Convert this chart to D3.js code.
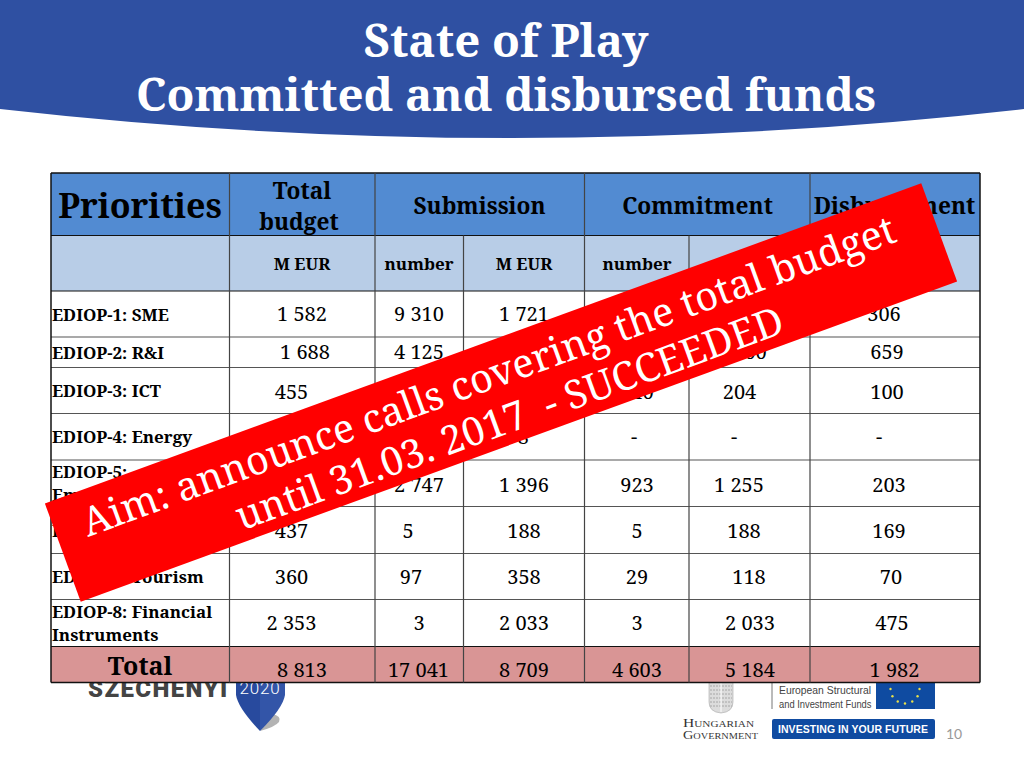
<!DOCTYPE html>
<html><head><meta charset="utf-8">
<script src="https://cdnjs.cloudflare.com/ajax/libs/d3/7.8.5/d3.min.js"></script>
<style>html,body{margin:0;padding:0;background:#fff}svg{display:block}</style>
</head><body><svg id="c" width="1024" height="768"></svg>
<script>
const titleLines = ["State of Play", "Committed and disbursed funds"];
const groupHeaders = ["Priorities", "Total budget", "Submission", "Commitment", "Disbursement"];
const unitHeaders = ["M EUR", "number", "M EUR", "number", "M EUR", "M EUR"];
const priorities = [["EDIOP-1: SME"],["EDIOP-2: R&I"],["EDIOP-3: ICT"],["EDIOP-4: Energy"],["EDIOP-5:","Employment"],["EDIOP-6: Training"],["EDIOP-7: Tourism"],["EDIOP-8: Financial","Instruments"]];
const totalBudget = ["1 582","1 688","455","1 250","688","437","360","2 353"];
const submissionNumber = ["9 310","4 125","416","338","2 747","5","97","3"];
const submissionEur = ["1 721","420","215","378","1 396","188","358","2 033"];
const commitmentNumber = ["3 100","433","140","-","923","5","29","3"];
const commitmentEur = ["686","700","204","-","1 255","188","118","2 033"];
const disbursementEur = ["306","659","100","-","203","169","70","475"];
const totals = ["8 813","17 041","8 709","4 603","5 184","1 982"];
const bannerLines = ["Aim: announce calls covering the total budget","until 31.03. 2017  - SUCCEEDED"];

const serif = "'Noto Serif','DejaVu Serif Condensed','DejaVu Serif',serif";
const svg = d3.select("#c");
const colEdges = [51,229.5,375,463.5,584.5,689,810,980];
const rowEdges = [173,235.5,291,337,367.5,413.5,460,506.5,553.5,599.5,646.5,682.5];
const x = d3.scaleLinear().domain(d3.range(colEdges.length)).range(colEdges);
const y = d3.scaleLinear().domain(d3.range(rowEdges.length)).range(rowEdges);

// header band
svg.append("path").attr("fill","#2f50a2").attr("d","M0,0H1024V109Q512,167 0,109Z");
svg.append("g").selectAll("text").data(titleLines).join("text")
 .attr("x",506).attr("y",(d,i)=>[57,111][i]).attr("text-anchor","middle")
 .attr("fill","#fff").attr("font-family",serif).attr("font-weight",700).attr("font-size",45.6).text(d=>d);

// footer logos
const foot = svg.append("g");
foot.append("text").attr("x",88).attr("y",697).attr("font-family","Roboto,sans-serif").attr("font-weight",900).attr("font-size",24).attr("letter-spacing",1.4).attr("fill","#444").text("SZECHENYI");
foot.append("path").attr("fill","#b3b3b3").attr("d","M260,731L272,714Q282,716 279,722Q275,727 260,731Z");
foot.append("path").attr("fill","#284a9e").attr("d","M236,680H260V731Q238,708 236,695Z");
foot.append("path").attr("fill","#3355a8").attr("d","M260,680H285V695Q283,708 260,731Z");
foot.append("text").attr("x",260).attr("y",694).attr("text-anchor","middle").attr("font-family","Roboto,sans-serif").attr("font-weight",300).attr("font-size",17).attr("letter-spacing",0.8).attr("fill","#fff").text("2020");
// crest
foot.append("path").attr("fill","#dcdcdc").attr("stroke","#aaa").attr("stroke-width",0.6).attr("d","M709,680H733V702Q733,712 721,713Q709,712 709,702Z");
foot.append("g").selectAll("line").data([686,690,694,698,702,706]).join("line")
 .attr("x1",710).attr("x2",732).attr("y1",d=>d).attr("y2",d=>d).attr("stroke","#999").attr("stroke-width",0.8).attr("stroke-dasharray","2 1");
foot.append("line").attr("x1",721).attr("x2",721).attr("y1",682).attr("y2",712).attr("stroke","#fff");
foot.append("g").selectAll("text").data(["Hungarian","Government"]).join("text")
 .attr("x",(d,i)=>[718.5,720.5][i]).attr("y",(d,i)=>[727,739][i]).attr("text-anchor","middle")
 .attr("textLength",(d,i)=>[71,75][i]).attr("lengthAdjust","spacingAndGlyphs")
 .attr("font-family","'Liberation Serif',serif").attr("font-size",12.5).style("font-variant","small-caps").attr("fill","#333").text(d=>d);
foot.append("line").attr("x1",772).attr("x2",772).attr("y1",680).attr("y2",709).attr("stroke","#777");
foot.append("g").selectAll("text").data(["European Structural","and Investment Funds"]).join("text")
 .attr("x",779).attr("y",(d,i)=>[694,708][i]).attr("textLength",(d,i)=>[92,92.5][i]).attr("lengthAdjust","spacingAndGlyphs")
 .attr("font-family","'Liberation Sans',sans-serif").attr("font-size",11).attr("fill","#444").text(d=>d);
foot.append("rect").attr("x",876).attr("y",680).attr("width",59).attr("height",29).attr("fill","#0f4ba1");
const starAngles = d3.range(12);
foot.append("g").selectAll("circle").data(starAngles).join("circle")
 .attr("cx",d=>905+14.5*Math.sin(d*Math.PI/6)).attr("cy",d=>689-14.5*Math.cos(d*Math.PI/6))
 .attr("r",1.2).attr("fill","#e8e04a");
foot.append("rect").attr("x",772).attr("y",719).attr("width",163).attr("height",20).attr("rx",2).attr("fill","#0f4ba1");
foot.append("text").attr("x",778).attr("y",733).attr("textLength",150).attr("lengthAdjust","spacing")
 .attr("font-family","'Liberation Sans',sans-serif").attr("font-weight",700).attr("font-size",10.5).attr("fill","#fff").text("INVESTING IN YOUR FUTURE");
foot.append("text").attr("x",954).attr("y",739).attr("text-anchor","middle").attr("font-family","Lato,sans-serif").attr("font-size",14).attr("fill","#999").text("10");

// table fills
const t = svg.append("g");
t.append("rect").attr("x",x(0)).attr("y",y(0)).attr("width",x(7)-x(0)).attr("height",y(1)-y(0)).attr("fill","#528bd2");
t.append("rect").attr("x",x(0)).attr("y",y(1)).attr("width",x(7)-x(0)).attr("height",y(2)-y(1)).attr("fill","#b8cde7");
t.append("rect").attr("x",x(0)).attr("y",y(2)).attr("width",x(7)-x(0)).attr("height",y(10)-y(2)).attr("fill","#fff");
t.append("rect").attr("x",x(0)).attr("y",y(10)).attr("width",x(7)-x(0)).attr("height",y(11)-y(10)).attr("fill","#d99595");

// grid
t.append("g").selectAll("line").data(d3.range(12)).join("line")
 .attr("x1",x(0)).attr("x2",x(7)).attr("y1",d=>y(d)).attr("y2",d=>y(d))
 .attr("stroke",d=>(d<3||d>=10)?"#111":"#555").attr("stroke-width",d=>(d==0||d==11)?1.5:1.2);
const vTop = {0:0,1:0,2:0,3:1,4:0,5:1,6:0,7:0};
t.append("g").selectAll("line").data(d3.range(8)).join("line")
 .attr("x1",d=>x(d)).attr("x2",d=>x(d)).attr("y1",d=>y(vTop[d])).attr("y2",y(11))
 .attr("stroke",d=>(d==0||d==7)?"#111":"#444").attr("stroke-width",d=>(d==0||d==7)?1.5:1.2);

function put(parent,txt,cx,cy,size,weight,anchor){
 return parent.append("text").attr("x",cx).attr("y",cy).attr("text-anchor",anchor||"middle")
  .attr("dominant-baseline","central").attr("font-family",serif).attr("font-size",size)
  .attr("font-weight",weight).attr("fill","#000").text(txt);
}
// headers
const hdr = t.append("g");
put(hdr,groupHeaders[0],140,205,34,700);
put(hdr,"Total",302,190,22.7,700); put(hdr,"budget",299,221,22.7,700);
put(hdr,groupHeaders[2],479.5,205,22.7,700);
put(hdr,groupHeaders[3],697.5,205,22.7,700);
put(hdr,groupHeaders[4],894.5,205,22.7,700);
const unitCx=[302,419,524,637,750,895];
unitHeaders.forEach((u,i)=>put(hdr,u,unitCx[i],263,17,700));

// rows
const rowMid = d3.range(2,10).map(r=>(y(r)+y(r+1))/2);
const lab = t.append("g");
priorities.forEach((lines,r)=>{
 const n=lines.length, gap=23;
 lines.forEach((s,j)=>put(lab,s,52,rowMid[r]+(j-(n-1)/2)*gap,17,700,"start"));
});
const columns=[totalBudget,submissionNumber,submissionEur,commitmentNumber,commitmentEur,disbursementEur];
const textCx=[
 [302,305,291.5,291.5,291.5,291.5,291.5,291.5],
 [419,419,419,419,419,408,411,419],
 [524,524,524,512,524,524,524,524],
 [637,637,637,634,637,637,637,637],
 [745,750,739.5,734,739,744,749,750],
 [884,887,887,879,889,889,891,892]];
const rowShift=[-0.5,-0.5,0.5,-0.5,1,0.5,-0.5,-0.5];
const vals=t.append("g");
columns.forEach((col,c)=>col.forEach((v,r)=>put(vals,v,textCx[c][r],rowMid[r]+rowShift[r],20,400)));
const totalCx=[302,418.5,524,637,750,894.5];
put(vals,"Total",140,665,25,700);
totals.forEach((v,i)=>put(vals,v,totalCx[i],669.5,20,400));

// banner
const bx=501, by=392.5, ang=-20.06;
const b=svg.append("g").attr("transform",`translate(${bx},${by}) rotate(${ang})`);
b.append("rect").attr("x",-466.5).attr("y",-52.3).attr("width",933).attr("height",104.6).attr("fill","#ff0000");
b.selectAll("text").data(bannerLines).join("text")
 .attr("x",(d,i)=>[-6,-1][i]).attr("y",(d,i)=>[-6,41][i]).attr("text-anchor","middle")
 .style("white-space","pre")
 .attr("font-family",serif).attr("font-size",39.6).attr("fill","#fff").text(d=>d);
</script></body></html>
